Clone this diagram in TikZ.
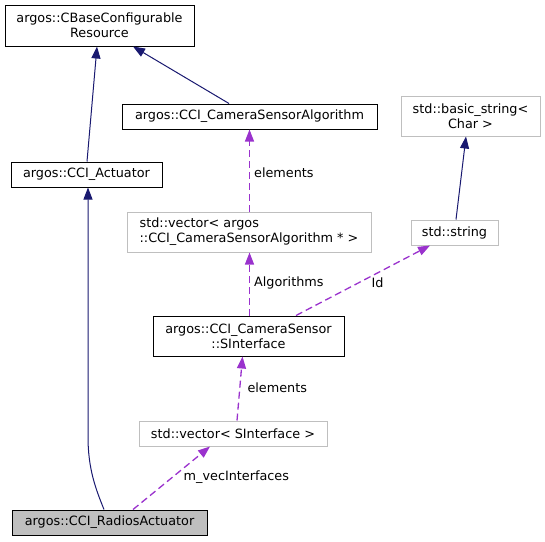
\documentclass[tikz,border=0pt]{standalone}
\usepackage{fontspec}
\setmainfont{DejaVu Sans}
\usetikzlibrary{arrows.meta}
\definecolor{edgeblue}{HTML}{191970}
\definecolor{edgepurple}{HTML}{9A32CD}
\definecolor{boxgray}{HTML}{BFBFBF}
\begin{document}
\begin{tikzpicture}[x=1pt,y=-1pt,font=\fontsize{12.8}{15}\selectfont,
  cls/.style={draw=black,line width=1pt,inner sep=0pt,align=center},
  ext/.style={draw=boxgray,line width=1pt,inner sep=0pt,align=center},
  inh/.style={draw=edgeblue,line width=1pt,-{Triangle[length=12pt,width=9pt]}},
  usg/.style={draw=edgepurple,line width=1.3pt,dash pattern=on 7pt off 4pt,-{Triangle[length=12pt,width=9pt]}},
  lbl/.style={inner sep=0pt}]
\useasboundingbox (0,0) rectangle (545,541);
%classes
\node[cls,minimum width=189pt,minimum height=41pt] (base) at (99.5,25.5){argos::CBaseConfigurable\\Resource};
\node[cls,minimum width=255pt,minimum height=25pt] (camalg) at (249.5,116.5){argos::CCI\_CameraSensorAlgorithm};
\node[cls,minimum width=151pt,minimum height=25pt] (act) at (86.5,174.5){argos::CCI\_Actuator};
\node[ext,minimum width=139pt,minimum height=40pt] (bstr) at (470.5,116){std::basic\_string<\\Char >};
\node[ext,minimum width=244pt,minimum height=40pt,align=left] (vecalg) at (249,232){std::vector< argos\\::CCI\_CameraSensorAlgorithm * >};
\node[ext,minimum width=87pt,minimum height=25pt] (str) at (454.5,232.5){std::string};
\node[cls,minimum width=191pt,minimum height=40pt] (sif) at (248.5,336){argos::CCI\_CameraSensor\\::SInterface};
\node[ext,minimum width=188pt,minimum height=25pt] (vecsif) at (233,433.5){std::vector< SInterface >};
\node[cls,fill=boxgray,minimum width=195pt,minimum height=25pt] (radio) at (109.5,522.5){argos::CCI\_RadiosActuator};
%inheritance
\draw[inh] ([xshift=0.5]act.north) -- ([xshift=-2.5]base.south);
\draw[inh] ([xshift=-20.5]camalg.north) -- ([xshift=33.5]base.south);
\draw[inh] ([xshift=1.5]str.north) -- ([xshift=-4.5]bstr.south);
\draw[inh] ([xshift=-5.5]radio.north) .. controls +(-8,-20) and +(0,33) .. ++(-16,-73) -- ([xshift=1.5]act.south);
%members
\draw[usg] ([xshift=0.5]vecalg.north) -- ([xshift=0.5]vecalg.north |- camalg.south) node[lbl,pos=0.47,right=4pt]{elements};
\draw[usg] ([xshift=1]sif.north) -- ([xshift=0.5]vecalg.south) node[lbl,pos=0.52,right=4pt]{Algorithms};
\draw[usg] ([xshift=47.5]sif.north) -- ([xshift=-24.5]str.south) node[lbl,pos=0.47,right=12pt]{Id};
\draw[usg] ([xshift=4]vecsif.north) -- ([xshift=-6]sif.south) node[lbl,pos=0.52,right=7pt]{elements};
\draw[usg] ([xshift=23.5]radio.north) -- ([xshift=-23]vecsif.south) node[lbl,pos=0.52,right=10pt]{m\_vecInterfaces};
\end{tikzpicture}
\end{document}
